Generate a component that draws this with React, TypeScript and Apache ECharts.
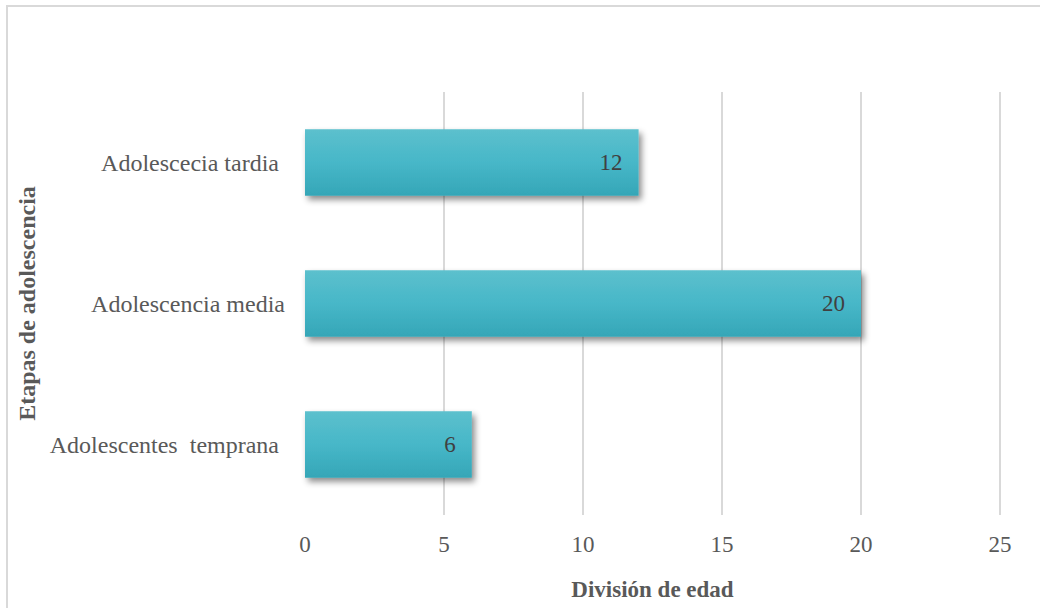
import React, { useEffect, useRef } from "react";
import * as echarts from "echarts";

const categories = ["Adolescentes  temprana ", "Adolescencia media", "Adolescecia tardia "];
const values = [6, 20, 12];
const xTicks = { min: 0, max: 25, interval: 5 };
const xAxisName = "División de edad";
const yAxisName = "Etapas de adolescencia";

const FONT = "'Liberation Serif', 'Times New Roman', serif";

export default function App() {
  const ref = useRef<HTMLDivElement>(null);
  useEffect(() => {
    if (!ref.current) return;
    const chart = echarts.init(ref.current, undefined, { renderer: "svg" });
    chart.setOption({
      animation: false,
      backgroundColor: "#ffffff",
      textStyle: { fontFamily: FONT },
      graphic: [
        {
          type: "rect",
          shape: { x: 7, y: 6, width: 1100, height: 700 },
          style: { fill: "none", stroke: "#d9d9d9", lineWidth: 2 },
          silent: true,
        },
      ],
      grid: { left: 305, right: 40, top: 92, bottom: 93 },
      xAxis: {
        type: "value",
        min: xTicks.min,
        max: xTicks.max,
        interval: xTicks.interval,
        name: xAxisName,
        nameLocation: "middle",
        nameGap: 63,
        nameTextStyle: { fontFamily: FONT, fontSize: 23, fontWeight: "bold", color: "#595959" },
        axisLine: { show: false },
        axisTick: { show: false },
        axisLabel: { fontFamily: FONT, fontSize: 23, color: "#595959", margin: 18 },
        splitLine: {
          show: true,
          lineStyle: {
            color: ["rgba(0,0,0,0)", "#d9d9d9", "#d9d9d9", "#d9d9d9", "#d9d9d9", "#d9d9d9"],
            width: 2,
          },
        },
      },
      yAxis: {
        type: "category",
        data: categories,
        name: yAxisName,
        nameLocation: "middle",
        nameGap: 266,
        nameRotate: 90,
        nameTextStyle: { fontFamily: FONT, fontSize: 24, fontWeight: "bold", color: "#595959" },
        axisLine: { show: false },
        axisTick: { show: false },
        axisLabel: { fontFamily: FONT, fontSize: 24, color: "#595959", margin: 20 },
        splitLine: { show: false },
      },
      series: [
        {
          type: "bar",
          data: values,
          barWidth: "47%",
          itemStyle: {
            color: new echarts.graphic.LinearGradient(0, 0, 0, 1, [
              { offset: 0, color: "#5cc0cd" },
              { offset: 0.5, color: "#47b7c8" },
              { offset: 1, color: "#35a6b7" },
            ]),
            shadowColor: "rgba(0,0,0,0.45)",
            shadowBlur: 6,
            shadowOffsetX: 3,
            shadowOffsetY: 4,
          },
          label: {
            show: true,
            position: "insideRight",
            distance: 16,
            fontFamily: FONT,
            fontSize: 23,
            color: "#404040",
          },
        },
      ],
    });
    return () => chart.dispose();
  }, []);
  return (
    <div
      ref={ref}
      style={{ position: "absolute", left: 0, top: 0, width: 1040, height: 608 }}
    />
  );
}
